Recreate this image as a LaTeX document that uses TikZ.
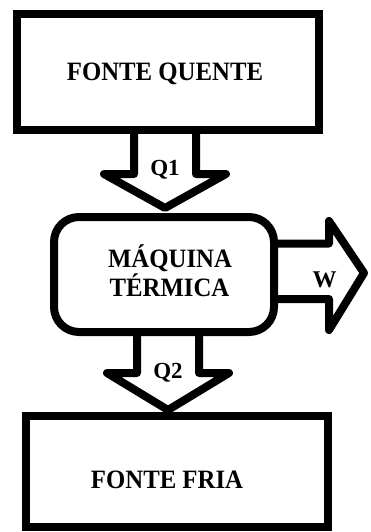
\documentclass[tikz,border=0pt]{standalone}
\usepackage{fontspec}
\setmainfont{Liberation Serif}
\newfontfamily\lblfont[FakeStretch=0.935]{Liberation Serif}
\begin{document}
\begin{tikzpicture}[x=1pt,y=-1pt,
  thick line/.style={line width=8pt},
  box/.style={draw, thick line, fill=white, inner sep=0pt},
  blockarrow/.style={draw, thick line, fill=white, line join=round},
  lbl/.style={anchor=base, inner sep=0pt, font=\lblfont\bfseries\fontsize{26.5}{30}\selectfont},
  qlbl/.style={anchor=base, inner sep=0pt, font=\bfseries\fontsize{23}{28}\selectfont}]
\useasboundingbox (0,0) rectangle (371,532);
% block arrows
\path[blockarrow] (134,130) -- (134,174) -- (104,174) -- (165,208) -- (226,174) -- (196,174) -- (196,130);
\path[blockarrow] (274,243.5) -- (329,243.5) -- (329,221) -- (364,273) -- (329,330) -- (329,299) -- (274,299);
\path[blockarrow] (137,332) -- (137,373) -- (107,373) -- (168,410) -- (229,373) -- (199,373) -- (199,332);
% boxes
\node[box, minimum width=302pt, minimum height=116pt] (hot) at (168,72) {};
\node[box, rounded corners=25pt, minimum width=220pt, minimum height=115pt] (engine) at (164,274.5) {};
\node[box, minimum width=302pt, minimum height=111pt] (cold) at (177,471.5) {};
% labels
\node[lbl] (hotlbl) at (165,81) {FONTE QUENTE};
\node[qlbl] (q1) at (165,175) {Q1};
\node[lbl] (eng1) at (170,267) {MÁQUINA};
\node[lbl] (eng2) at (169.5,296) {TÉRMICA};
\node[qlbl, font=\bfseries\fontsize{24}{28}\selectfont] (w) at (324.5,287) {W};
\node[qlbl] (q2) at (168,378) {Q2};
\node[lbl] (coldlbl) at (167,488) {FONTE FRIA};
\end{tikzpicture}
\end{document}
